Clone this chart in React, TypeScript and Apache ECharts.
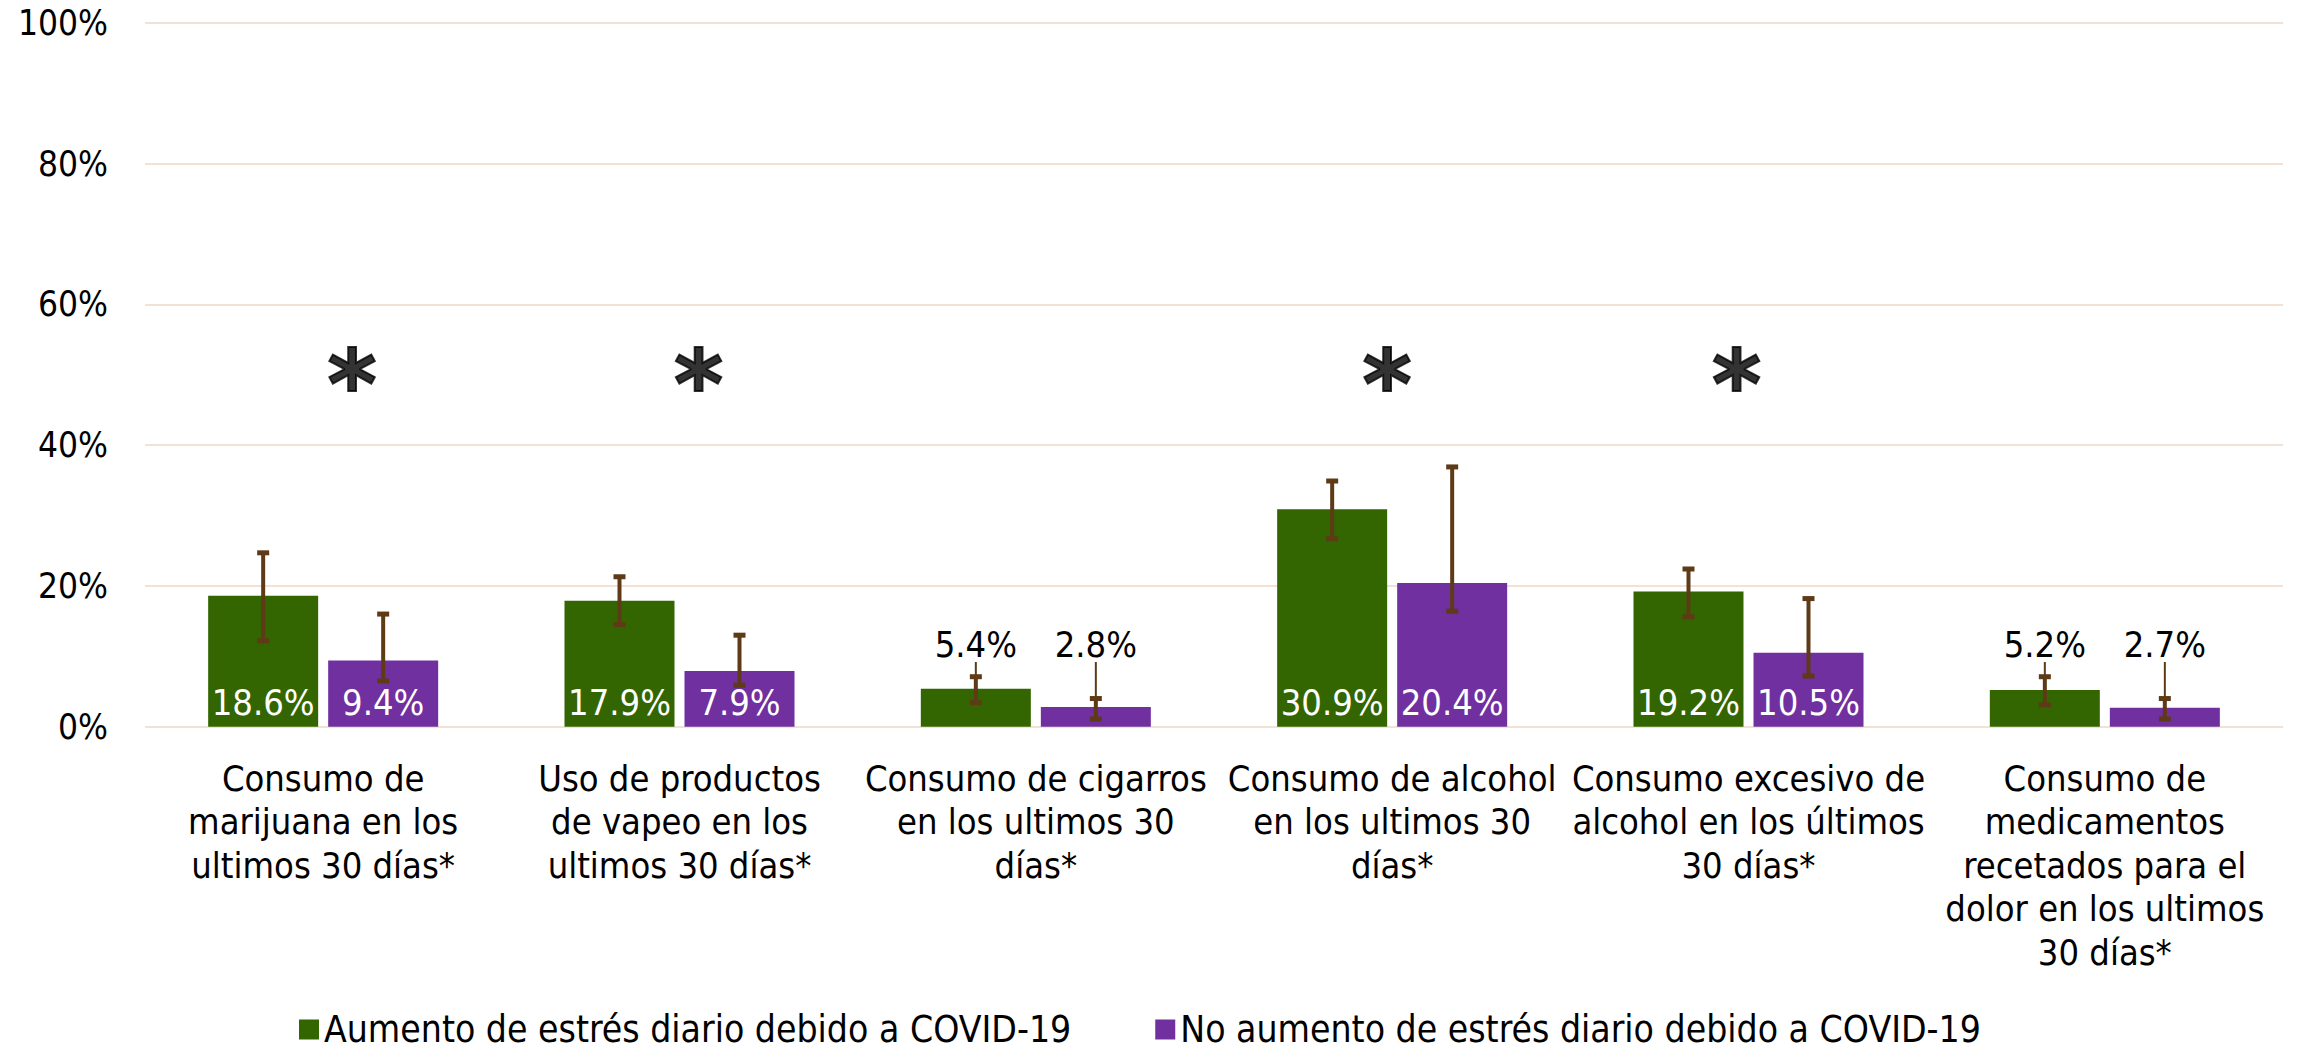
import React, { useEffect, useRef } from "react";
import * as echarts from "echarts";

const categories = [
  "Consumo de\nmarijuana en los\nultimos 30 días*",
  "Uso de productos\nde vapeo en los\nultimos 30 días*",
  "Consumo de cigarros\nen los ultimos 30\ndías*",
  "Consumo de alcohol\nen los ultimos 30\ndías*",
  "Consumo excesivo de\nalcohol en los últimos\n30 días*",
  "Consumo de\nmedicamentos\nrecetados para el\ndolor en los ultimos\n30 días*",
];
const seriesNames = [
  "Aumento de estrés diario debido a COVID-19",
  "No aumento de estrés diario debido a COVID-19",
];
const aumento = [18.6, 17.9, 5.4, 30.9, 19.2, 5.2];
const noAumento = [9.4, 7.9, 2.8, 20.4, 10.5, 2.7];
const aumentoLow = [12.2, 14.5, 3.4, 26.7, 15.6, 3.1];
const aumentoHigh = [24.7, 21.3, 7.1, 34.9, 22.4, 7.1];
const noAumentoLow = [6.5, 5.9, 1.1, 16.4, 7.2, 1.1];
const noAumentoHigh = [16.0, 13.0, 4.0, 36.9, 18.2, 4.0];
const significant = [true, true, false, true, true, false];
const labelOutside = [false, false, true, false, false, true];
const yTicks = [0, 20, 40, 60, 80, 100];

// style / placement constants
const asteriskDx = [29, 19, 0, -5, -12, 0];
const GREEN = "#336600";
const PURPLE = "#7030A0";
const BROWN = "#5E3A16";
const GRID = "#F3E2D4";
const FONT = "'DejaVu Sans Condensed', 'Liberation Sans Narrow', 'DejaVu Sans', sans-serif";
const ASTERISK_LEVEL = 50.5;
const OUTSIDE_LABEL_Y = 644;
const BAR_OFFSET = 60;

function errorRender(dx: number) {
  return (params: any, api: any) => {
    const xi = api.value(0);
    const x = api.coord([xi, 0])[0] + dx;
    const lo = api.coord([xi, api.value(1)])[1];
    const hi = api.coord([xi, api.value(2)])[1];
    const cap = 6;
    return {
      type: "group",
      children: [
        { type: "line", shape: { x1: x, y1: hi, x2: x, y2: lo }, style: { stroke: BROWN, lineWidth: 4 } },
        { type: "line", shape: { x1: x - cap, y1: hi, x2: x + cap, y2: hi }, style: { stroke: BROWN, lineWidth: 5 } },
        { type: "line", shape: { x1: x - cap, y1: lo, x2: x + cap, y2: lo }, style: { stroke: BROWN, lineWidth: 5 } },
      ],
    };
  };
}

function barSeries(name: string, values: number[], color: string) {
  return {
    name,
    type: "bar",
    barWidth: 110,
    barGap: "9.1%",
    itemStyle: { color },
    data: values.map((v, i) =>
      labelOutside[i]
        ? { value: v, label: { position: "top", color: "#000000", distance: 20 } }
        : { value: v }
    ),
    label: {
      show: true,
      position: "insideBottom",
      distance: 6,
      color: "#ffffff",
      fontFamily: FONT,
      fontSize: 36,
      formatter: (p: any) => p.value.toFixed(1) + "%",
    },
    labelLayout: (p: any) => {
      if (!labelOutside[p.dataIndex]) return {};
      const r = p.rect;
      return { x: r.x + r.width / 2, y: OUTSIDE_LABEL_Y, align: "center", verticalAlign: "middle" };
    },
    labelLine: { show: true, lineStyle: { color: BROWN, width: 2 } },
    z: 2,
  };
}

export default function App() {
  const ref = useRef<HTMLDivElement>(null);
  useEffect(() => {
    document.body.style.margin = "0";
    const chart = echarts.init(ref.current!, null, { renderer: "svg" });
    chart.setOption({
      animation: false,
      backgroundColor: "#ffffff",
      grid: { left: 145, right: 22, top: 22.7, bottom: 319.3, containLabel: false },
      legend: {
        left: 294,
        top: 1006,
        itemWidth: 20,
        itemHeight: 20,
        itemGap: 84,
        icon: "rect",
        textStyle: { fontFamily: FONT, fontSize: 37, color: "#000000" },
        data: seriesNames,
      },
      xAxis: {
        type: "category",
        data: categories,
        axisLine: { show: false },
        axisTick: { show: false },
        axisLabel: {
          interval: 0,
          margin: 30,
          color: "#000000",
          fontFamily: FONT,
          fontSize: 36,
          lineHeight: 43.5,
          align: "center",
        },
      },
      yAxis: {
        type: "value",
        min: yTicks[0],
        max: yTicks[yTicks.length - 1],
        interval: 20,
        axisLine: { show: false },
        axisTick: { show: false },
        splitLine: { lineStyle: { color: GRID, width: 2 } },
        axisLabel: {
          margin: 37,
          color: "#000000",
          fontFamily: FONT,
          fontSize: 35,
          formatter: (v: number) => v + "%",
        },
      },
      series: [
        barSeries(seriesNames[0], aumento, GREEN),
        barSeries(seriesNames[1], noAumento, PURPLE),
        {
          type: "custom",
          name: "err1",
          renderItem: errorRender(-BAR_OFFSET),
          data: aumento.map((_, i) => [i, aumentoLow[i], aumentoHigh[i]]),
          encode: { x: 0, y: [1, 2] },
          z: 5,
          silent: true,
        },
        {
          type: "custom",
          name: "err2",
          renderItem: errorRender(BAR_OFFSET),
          data: noAumento.map((_, i) => [i, noAumentoLow[i], noAumentoHigh[i]]),
          encode: { x: 0, y: [1, 2] },
          z: 5,
          silent: true,
        },
        {
          type: "scatter",
          name: "sig",
          symbolSize: 0,
          data: significant
            .map((s, i) =>
              s ? { value: [i, ASTERISK_LEVEL], label: { offset: [asteriskDx[i], 13] } } : null
            )
            .filter((d) => d),
          label: {
            show: true,
            position: "inside",
            formatter: "*",
            color: "#000000",
            fontFamily: "'DejaVu Sans', sans-serif",
            fontWeight: 900,
            fontSize: 94,
            textBorderColor: "#000000",
            textBorderWidth: 2,
          },
          silent: true,
          z: 6,
        },
      ],
    });
    return () => chart.dispose();
  }, []);
  return <div ref={ref} style={{ position: "absolute", left: 0, top: 0, width: 2305, height: 1046 }} />;
}
